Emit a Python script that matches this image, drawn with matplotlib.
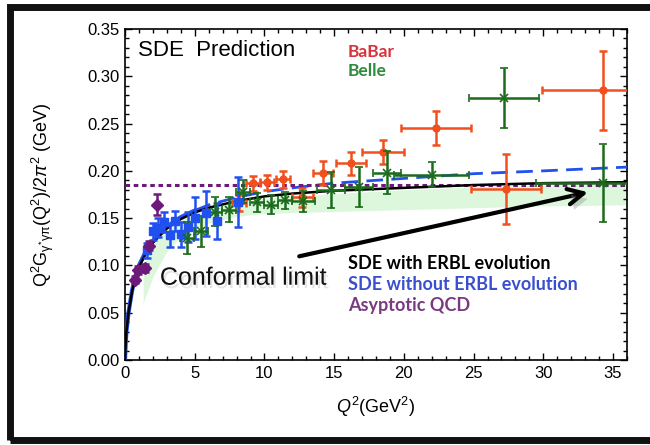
import numpy as np
import matplotlib
matplotlib.use("Agg")
import matplotlib.pyplot as plt
import matplotlib.patheffects as pe
from matplotlib.patches import Rectangle
from matplotlib.ticker import MultipleLocator

plt.rcParams['font.family'] = ['Liberation Sans', 'DejaVu Sans']
plt.rcParams['mathtext.fontset'] = 'custom'
plt.rcParams['mathtext.rm'] = 'Liberation Sans'
plt.rcParams['mathtext.it'] = 'Liberation Sans:italic'
plt.rcParams['mathtext.bf'] = 'Liberation Sans:bold'

# theory curves
q2_curve = [0, 0.05, 0.1, 0.25, 0.5, 0.75, 1.0, 1.5, 2, 3, 4, 5, 6, 8, 10, 12, 15, 20, 25, 30, 36]
sde_erbl = [0, 0.018, 0.03, 0.05, 0.072, 0.088, 0.098, 0.113, 0.124, 0.139, 0.149, 0.156,
            0.161, 0.168, 0.173, 0.176, 0.179, 0.182, 0.185, 0.187, 0.188]
sde_no_erbl = [0, 0.018, 0.03, 0.05, 0.073, 0.089, 0.100, 0.115, 0.126, 0.141, 0.151, 0.158,
               0.164, 0.172, 0.178, 0.182, 0.187, 0.192, 0.197, 0.200, 0.204]
asy_x = [0, 36]
asy_y = [0.185, 0.185]

# green uncertainty band
band_x = [1.3, 2, 3, 4, 5, 6, 8, 10, 15, 20, 25, 30, 36]
band_lo = [0.06, 0.088, 0.115, 0.13, 0.139, 0.145, 0.152, 0.155, 0.157, 0.159, 0.161, 0.163, 0.164]
band_hi = [0.098, 0.122, 0.138, 0.148, 0.155, 0.16, 0.167, 0.171, 0.176, 0.18, 0.183, 0.185, 0.186]

# BaBar
babar_x = [8.2, 9.19, 10.2, 11.3, 12.7, 14.2, 16.2, 18.5, 22.3, 27.3, 34.3]
babar_y = [0.166, 0.187, 0.188, 0.191, 0.172, 0.198, 0.208, 0.220, 0.245, 0.181, 0.285]
babar_yerr = [0.008, 0.008, 0.008, 0.009, 0.010, 0.0125, 0.012, 0.0125, 0.018, 0.037, 0.042]
babar_xerr = [0.5, 0.5, 0.5, 0.5, 0.75, 0.75, 1.05, 1.5, 2.5, 2.5, 4.4]

# Belle
belle_x = [4.46, 5.47, 6.47, 7.47, 8.48, 9.48, 10.5, 11.5, 12.8, 14.8, 16.8, 18.8, 22.0, 27.2, 34.3]
belle_y = [0.129, 0.136, 0.157, 0.159, 0.178, 0.167, 0.164, 0.169, 0.168, 0.180, 0.183,
           0.198, 0.196, 0.277, 0.187]
belle_yerr = [0.017, 0.016, 0.015, 0.013, 0.012, 0.010, 0.010, 0.009, 0.011, 0.019, 0.021,
              0.023, 0.013, 0.032, 0.041]
belle_xerr = [0.5, 0.5, 0.5, 0.5, 0.5, 0.5, 0.5, 0.5, 0.8, 1.0, 1.0, 1.0, 2.7, 2.5, 4.8]

# CLEO (blue)
cleo_x = [1.6, 2.0, 2.4, 2.8, 3.2, 3.6, 4.0, 4.5, 5.0, 5.8, 6.6, 8.1]
cleo_y = [0.116, 0.136, 0.140, 0.146, 0.132, 0.147, 0.133, 0.141, 0.150, 0.155, 0.147, 0.167]
cleo_yerr = [0.008, 0.009, 0.010, 0.011, 0.012, 0.011, 0.013, 0.016, 0.022, 0.024, 0.019, 0.026]

# CELLO (purple)
cello_x = [0.72, 0.95, 1.4, 1.7, 2.27]
cello_y = [0.085, 0.095, 0.097, 0.121, 0.164]
cello_yerr = [0.004, 0.004, 0.004, 0.005, 0.011]

red = '#f0501e'
green = '#1c6b1c'
blue = '#2050f0'
purple = '#6e1a7a'

fig = plt.figure(figsize=(6.5, 4.45), dpi=100)
ax = fig.add_axes([125/650, 85/445, 502/650, 331/445])

ax.fill_between(band_x, band_lo, band_hi, color='#dcf7dc', lw=0, zorder=1)

# curves
ax.plot(q2_curve[:12], sde_no_erbl[:12], color=blue, lw=3, zorder=3)
ax.plot(q2_curve[11:], sde_no_erbl[11:], color=blue, lw=2, dashes=(6, 3), zorder=3)
ax.plot(q2_curve, sde_erbl, color='black', lw=1.8, zorder=4)
ax.plot(asy_x, asy_y, color=purple, lw=2.2, dashes=(1.5, 1.2), zorder=3)

ebk = dict(capsize=3, capthick=1.8, elinewidth=1.8)
ax.errorbar(cleo_x, cleo_y, yerr=cleo_yerr, xerr=0.2, fmt='s', ms=5.5, color=blue, zorder=5, **ebk)
ax.errorbar(cello_x, cello_y, yerr=cello_yerr, fmt='D', ms=6, color=purple, zorder=5, **ebk)
ax.errorbar(babar_x, babar_y, yerr=babar_yerr, xerr=babar_xerr, fmt='o', ms=5, color=red, zorder=4, **ebk)
ax.errorbar(belle_x, belle_y, yerr=belle_yerr, xerr=belle_xerr, fmt='x', ms=6, mew=1.2, color=green, zorder=5, **ebk)

# arrow + conformal limit label
shadow = [pe.SimplePatchShadow(offset=(3, -4), shadow_rgbFace='#888888', alpha=0.35), pe.Normal()]
ax.annotate('', xy=(33.4, 0.178), xytext=(12.3, 0.109),
            arrowprops=dict(arrowstyle='->', lw=3, color='black', mutation_scale=28,
                            path_effects=shadow), zorder=6)
ax.text(2.5, 0.087, 'Conformal limit', fontsize=18, va='center', ha='left', color='#111111',
        path_effects=[pe.withSimplePatchShadow(offset=(1.5, -2.5), shadow_rgbFace='#aaaaaa', alpha=0.3)],
        zorder=6)

ax.text(0.93, 0.3277, 'SDE  Prediction', fontsize=16, va='center')
ax.text(16.0, 0.3256, 'BaBar', fontsize=12.5, fontweight='bold', color='#d8323a', va='center', family='Lato')
ax.text(16.0, 0.3058, 'Belle', fontsize=12.5, fontweight='bold', color='#2e8b3e', va='center', family='Lato')
ax.text(16.0, 0.1025, 'SDE with ERBL evolution', fontsize=13, fontweight='bold', color='black', va='center', family='Lato')
ax.text(16.0, 0.0796, 'SDE without ERBL evolution', fontsize=13, fontweight='bold', color='#3a4fd0', va='center', family='Lato')
ax.text(16.0, 0.0581, 'Asyptotic QCD', fontsize=13, fontweight='bold', color='#7a3a80', va='center', family='Lato')

ax.set_xlim(0, 36)
ax.set_ylim(0, 0.35)
ax.xaxis.set_major_locator(MultipleLocator(5))
ax.xaxis.set_minor_locator(MultipleLocator(1))
ax.yaxis.set_major_locator(MultipleLocator(0.05))
ax.yaxis.set_minor_locator(MultipleLocator(0.01))
ax.yaxis.set_major_formatter(matplotlib.ticker.FormatStrFormatter('%.2f'))
ax.tick_params(which='both', direction='in', top=True, right=True, labelsize=12, width=1)
ax.tick_params(which='major', length=5, pad=4)
ax.tick_params(which='minor', length=3)
for s in ax.spines.values():
    s.set_linewidth(1.2)

ax.set_xlabel(r'$Q^2$(GeV$^2$)', fontsize=13)
ax.xaxis.set_label_coords(0.5, -0.105)
ax.set_ylabel(r'$\mathrm{Q^2G_{\gamma^{*}\gamma\pi}(Q^2)/2}\pi^2$ (GeV)', fontsize=13)
ax.yaxis.set_label_coords(-0.138, 0.5)

# thick outer frame
fig.patches.append(Rectangle((10/650, 5/445), 700/650, 433/445, transform=fig.transFigure,
                             fill=False, edgecolor='#111111', lw=5, zorder=10))

fig.savefig('out.png', dpi=100)
